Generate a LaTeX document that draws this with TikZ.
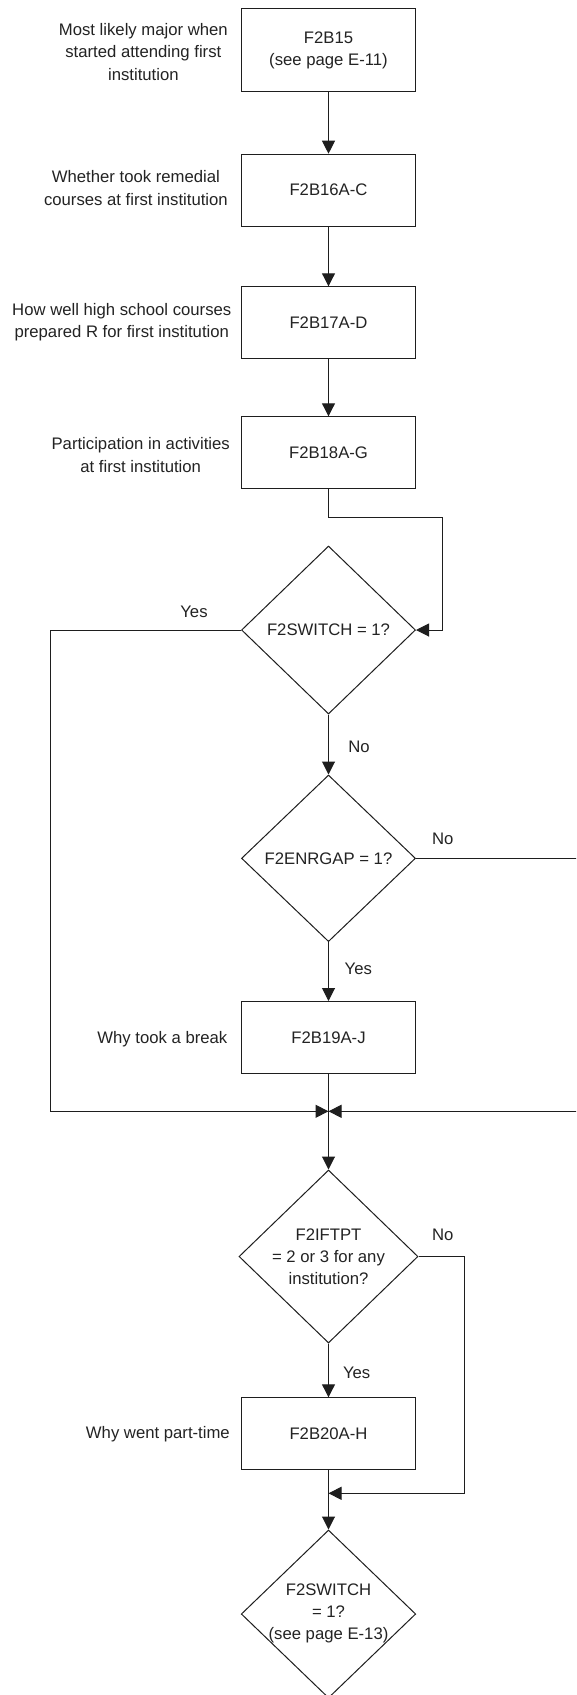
\documentclass[tikz,border=0pt]{standalone}
\usepackage{fontspec}
\setmainfont{Liberation Sans}
\usetikzlibrary{shapes.geometric,arrows.meta}
\definecolor{ln}{RGB}{30,30,30}
\definecolor{tx}{RGB}{35,35,35}
\begin{document}
\begin{tikzpicture}[x=1pt,y=-1pt,
  font=\fontsize{16.7pt}{22.2pt}\selectfont,
  box/.style={draw=ln, line width=1pt, minimum width=174.5pt, minimum height=72pt,
              inner sep=0pt, align=center, text=tx},
  dec/.style={draw=ln, line width=1pt, shape=diamond, minimum width=174pt,
              minimum height=168pt, inner sep=0pt},
  dectext/.style={align=center, inner sep=0pt, text=tx},
  note/.style={anchor=east, align=center, inner sep=0pt, text=tx},
  tag/.style={inner sep=0pt, text=tx},
  wire/.style={draw=ln, line width=1pt},
  flow/.style={wire, -{Triangle[length=13pt,width=13pt]}}]

\clip (0,0) rectangle (576,1695);
\fill[white] (0,0) rectangle (576,1695);

% process boxes
\node[box, minimum height=83pt] (b15) at (328.5,50) {F2B15\\(see page E-11)};
\node[box] (b16) at (328.5,190.2) {F2B16A-C};
\node[box] (b17) at (328.5,322.8) {F2B17A-D};
\node[box] (b18) at (328.5,452.8) {F2B18A-G};
\node[box] (b19) at (328.5,1037.5) {F2B19A-J};
\node[box] (b20) at (328.5,1433.8) {F2B20A-H};

% decisions
\node[dec] (sw1) at (328.5,630) {};
\node[dectext] (sw1t) at (sw1) {F2SWITCH = 1?};
\node[dec, minimum height=166.6pt] (gap) at (328.5,858.3) {};
\node[dectext] (gapt) at (gap) {F2ENRGAP = 1?};
\node[dec, minimum width=179pt, minimum height=173pt] (ftpt) at (328.5,1256.5) {};
\node[dectext] (ftptt) at (ftpt) {F2IFTPT\\= 2 or 3 for any\\institution?};
\node[dec, minimum width=174.5pt] (sw2) at (328.5,1614) {};
\node[dectext] (sw2t) at (328.5,1613.3) {F2SWITCH\\= 1?\\(see page E-13)};

% descriptions
\node[note] (n15) at (228,52) {Most likely major when\\started attending first\\institution};
\node[note] (n16) at (228,188) {Whether took remedial\\courses at first institution};
\node[note] (n17) at (231.5,322) {How well high school courses\\prepared R for first institution};
\node[note] (n18) at (230,455) {Participation in activities\\at first institution};
\node[note] (n19) at (227.5,1039) {Why took a break};
\node[note] (n20) at (230,1433.7) {Why went part-time};

% branch labels
\node[tag] (y1) at (194,611.7) {Yes};
\node[tag] (no1) at (359,746.7) {No};
\node[tag] (no2) at (442.7,839.3) {No};
\node[tag] (y2) at (358.3,969) {Yes};
\node[tag] (no3) at (442.7,1235) {No};
\node[tag] (y3) at (356.7,1372.7) {Yes};

% routing points
\coordinate (r18) at (442,517.7);
\coordinate (yesleft) at (50.7,630);
\coordinate (noright) at (600,858.3);
\coordinate (m1) at (328.5,1111.3);
\coordinate (ftright) at (464.3,1256.5);
\coordinate (m2) at (328.5,1493.3);

% connectors
\draw[flow] (b15.south) -- (b16.north);
\draw[flow] (b16.south) -- (b17.north);
\draw[flow] (b17.south) -- (b18.north);
\draw[flow] (b18.south) |- (r18) |- (sw1.east);
\draw[flow] (sw1.south) -- (gap.north);
\draw[flow] (sw1.west) -- (yesleft) |- (m1);
\draw[flow] (gap.east) -- (noright) |- (m1);
\draw[flow] (gap.south) -- (b19.north);
\draw[wire] (b19.south) -- (m1);
\draw[flow] (m1) -- (ftpt.north);
\draw[flow] (ftpt.east) -- (ftright) |- (m2);
\draw[flow] (ftpt.south) -- (b20.north);
\draw[wire] (b20.south) -- (m2);
\draw[flow] (m2) -- (sw2.north);
\end{tikzpicture}
\end{document}
